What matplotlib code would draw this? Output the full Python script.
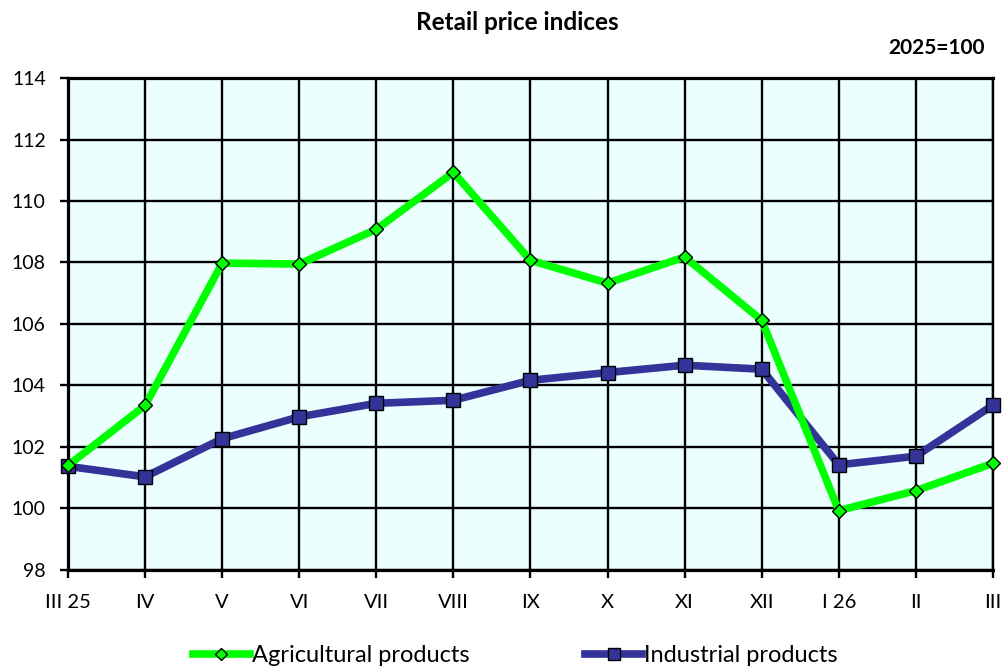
import matplotlib
matplotlib.use("Agg")
import matplotlib.pyplot as plt

months = ["III 25", "IV", "V", "VI", "VII", "VIII", "IX", "X", "XI", "XII", "I 26", "II", "III"]
agricultural = [101.4, 103.35, 107.98, 107.95, 109.08, 110.93, 108.07, 107.33, 108.18, 106.12, 99.93, 100.58, 101.47]
industrial = [101.37, 101.03, 102.27, 102.98, 103.42, 103.52, 104.17, 104.42, 104.66, 104.53, 101.42, 101.7, 103.36]
yticks = [98, 100, 102, 104, 106, 108, 110, 112, 114]

plt.rcParams['font.family'] = ['Lato', 'DejaVu Sans']

fig = plt.figure(figsize=(10.05, 6.69), dpi=100)
ax = fig.add_axes([0.0677, 0.148, 0.9203, 0.7354])
ax.set_facecolor('#EBFFFF')

x = list(range(len(months)))
ax.plot(x, agricultural, color='#00FF00', lw=5.5, marker='D', ms=7.2,
        mfc='#00FF00', mec='black', mew=1.0, clip_on=False, zorder=4,
        label='Agricultural products')
ax.plot(x, industrial, color='#333399', lw=5.5, marker='s', ms=9.8,
        mfc='#333399', mec='black', mew=1.0, clip_on=False, zorder=3,
        label='Industrial products')

ax.set_xlim(0, len(months) - 1)
ax.set_ylim(98, 114)
ax.set_yticks(yticks)
ax.set_xticks(x)
ax.set_xticklabels(months)
ax.grid(True, color='black', lw=1.7, zorder=1)
ax.set_axisbelow(True)
for s in ['left', 'bottom', 'top']:
    ax.spines[s].set_linewidth(2.3)
ax.spines['right'].set_linewidth(1.7)
ax.tick_params(axis='both', labelsize=14, length=6, width=1.7, direction='out')
ax.tick_params(axis='x', labelsize=14.5, pad=11)
ax.tick_params(axis='y', pad=10)

fig.text(0.515, 0.967, 'Retail price indices', ha='center', va='center',
         fontsize=17.5, fontweight='bold')
fig.text(0.98, 0.928, '2025=100', ha='right', va='center',
         fontsize=15, fontweight='bold')

leg = fig.legend(loc='center', bbox_to_anchor=(0.513, 0.02), ncol=2, frameon=False,
                 fontsize=17, handlelength=2.4, handletextpad=0.1, columnspacing=4.9,
                 markerscale=0.85)

fig.savefig('out.png', dpi=100)
